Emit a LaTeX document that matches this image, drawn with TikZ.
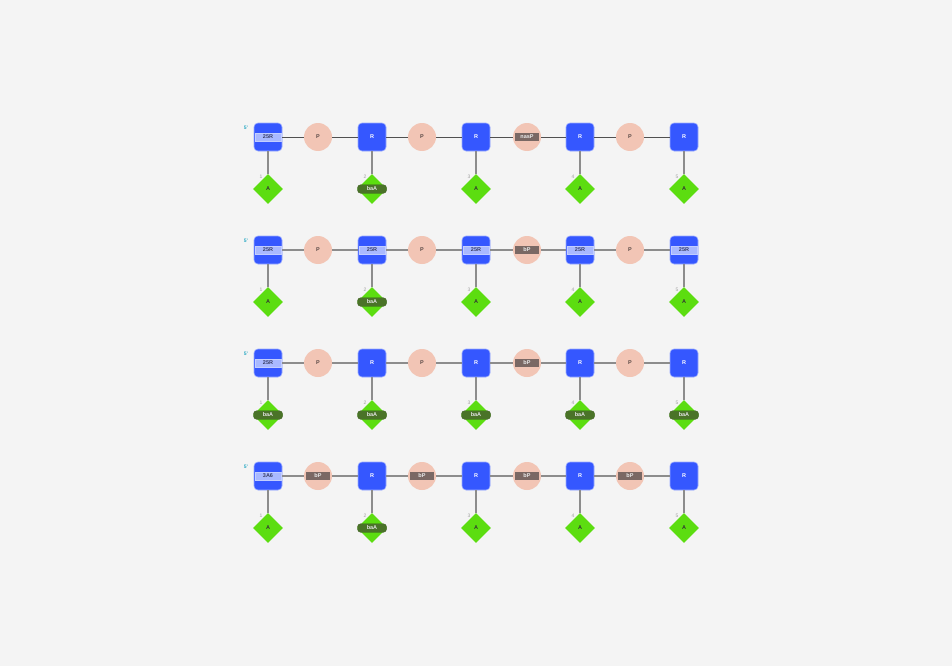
\documentclass[tikz,border=0pt]{standalone}
\usepackage{fontspec}
\setmainfont{Liberation Sans}
\usetikzlibrary{shapes.geometric}
\definecolor{bgc}{HTML}{F4F4F4}
\definecolor{sqblue}{HTML}{3557FF}
\definecolor{barblue}{HTML}{A9B9FF}
\definecolor{bartext}{HTML}{3A3F66}
\definecolor{phpink}{HTML}{F2C5B5}
\definecolor{phtext}{HTML}{5A4A46}
\definecolor{bgreen}{HTML}{5CDD10}
\definecolor{dgreen}{HTML}{4A7328}
\definecolor{pbadgec}{HTML}{7A6864}
\definecolor{tealc}{HTML}{2AA9C4}
\definecolor{bbdark}{HTML}{505050}
\definecolor{bbgray}{HTML}{8C8C8C}
\definecolor{numc}{HTML}{A0A0A0}
\tikzset{
  sqnode/.style={rectangle, rounded corners=4pt, minimum width=28pt, minimum height=28pt, inner sep=0pt,
     fill=sqblue, draw=sqblue!50!white, line width=0.6pt, text=white, font=\fontsize{5.5}{6}\selectfont\bfseries},
  barlbl/.style={rectangle, minimum width=26pt, minimum height=8pt, inner sep=0pt, fill=barblue,
     draw=barblue!70!white, line width=0.4pt, text=bartext, font=\fontsize{5.5}{6}\selectfont\bfseries},
  phnode/.style={circle, minimum size=28pt, inner sep=0pt, fill=phpink, text=phtext,
     font=\fontsize{5.5}{6}\selectfont\bfseries},
  pbadge/.style={rectangle, minimum width=24pt, minimum height=8pt, inner sep=0pt, fill=pbadgec,
     text=white!92!black, font=\fontsize{5.5}{6}\selectfont\bfseries},
  basenode/.style={diamond, minimum width=30pt, minimum height=30pt, inner sep=0pt, fill=bgreen,
     text=black!80, font=\fontsize{5.5}{6}\selectfont\bfseries},
  abadge/.style={rectangle, rounded corners=3pt, minimum width=29pt, minimum height=8.5pt, inner sep=0pt,
     fill=dgreen, draw=dgreen!80!black, line width=0.3pt, text=white!90!black, font=\fontsize{5.5}{6}\selectfont\bfseries},
  numlbl/.style={inner sep=0pt, text=numc, font=\fontsize{5}{5}\selectfont},
  primelbl/.style={inner sep=0pt, text=tealc, font=\fontsize{5}{5}\selectfont\bfseries},
  bbdarkline/.style={draw=bbdark, line width=0.9pt},
  bbline/.style={draw=bbgray, line width=1.4pt},
  stemline/.style={draw=bbgray, line width=1.6pt}
}
\newcommand\mkRsq[3]{\node[sqnode] (#1) at (#2,#3) {R};}
\newcommand\mkRbar[4]{\node[sqnode] (#1) at (#2,#3) {}; \node[barlbl] (#1l) at (#1.center) {#4};}
\newcommand\mkPc[3]{\node[phnode] (#1) at (#2,#3) {P};}
\newcommand\mkPb[4]{\node[phnode] (#1) at (#2,#3) {}; \node[pbadge] (#1l) at (#1.center) {#4};}
\newcommand\mkA[4]{\node[basenode] (#1) at (#2,#3) {A}; \node[numlbl] (#1n) at ([xshift=-7pt,yshift=12pt]#1.center) {#4};}
\newcommand\mkAb[4]{\node[basenode] (#1) at (#2,#3) {}; \node[abadge] (#1l) at (#1.center) {baA}; \node[numlbl] (#1n) at ([xshift=-7pt,yshift=12pt]#1.center) {#4};}
\newcommand\mkprime[2]{\node[primelbl] (#1p) at ([xshift=-22pt,yshift=9pt]#1.center) {5'};}
\begin{document}
\begin{tikzpicture}[x=1pt,y=-1pt]
\fill[bgc] (0,0) rectangle (952,666);
\useasboundingbox (0,0) rectangle (952,666);
% ---------- Row 1 ----------
\mkRbar{aR1}{268}{137}{25R}
\mkPc{aP1}{318}{137}
\mkRsq{aR2}{372}{137}
\mkPc{aP2}{422}{137}
\mkRsq{aR3}{476}{137}
\mkPb{aP3}{527}{137}{nasP}
\mkRsq{aR4}{580}{137}
\mkPc{aP4}{630}{137}
\mkRsq{aR5}{684}{137}
\mkprime{aR1}{}
\mkA{aB1}{268}{189}{1}
\mkAb{aB2}{372}{189}{2}
\mkA{aB3}{476}{189}{3}
\mkA{aB4}{580}{189}{4}
\mkA{aB5}{684}{189}{5}
\draw[bbdarkline] (aR1) -- (aP1) (aP1) -- (aR2) (aR2) -- (aP2) (aP2) -- (aR3) (aR3) -- (aP3) (aP3) -- (aR4) (aR4) -- (aP4) (aP4) -- (aR5);
\foreach \i in {1,...,5}{\draw[stemline] (aR\i) -- (aB\i);}
% ---------- Row 2 ----------
\mkRbar{bR1}{268}{250}{25R}
\mkPc{bP1}{318}{250}
\mkRbar{bR2}{372}{250}{25R}
\mkPc{bP2}{422}{250}
\mkRbar{bR3}{476}{250}{25R}
\mkPb{bP3}{527}{250}{bP}
\mkRbar{bR4}{580}{250}{25R}
\mkPc{bP4}{630}{250}
\mkRbar{bR5}{684}{250}{25R}
\mkprime{bR1}{}
\mkA{bB1}{268}{302}{1}
\mkAb{bB2}{372}{302}{2}
\mkA{bB3}{476}{302}{3}
\mkA{bB4}{580}{302}{4}
\mkA{bB5}{684}{302}{5}
\draw[bbline] (bR1) -- (bP1) (bP1) -- (bR2) (bR2) -- (bP2) (bP2) -- (bR3) (bR3) -- (bP3) (bP3) -- (bR4) (bR4) -- (bP4) (bP4) -- (bR5);
\foreach \i in {1,...,5}{\draw[stemline] (bR\i) -- (bB\i);}
% ---------- Row 3 ----------
\mkRbar{cR1}{268}{363}{25R}
\mkPc{cP1}{318}{363}
\mkRsq{cR2}{372}{363}
\mkPc{cP2}{422}{363}
\mkRsq{cR3}{476}{363}
\mkPb{cP3}{527}{363}{bP}
\mkRsq{cR4}{580}{363}
\mkPc{cP4}{630}{363}
\mkRsq{cR5}{684}{363}
\mkprime{cR1}{}
\mkAb{cB1}{268}{415}{1}
\mkAb{cB2}{372}{415}{2}
\mkAb{cB3}{476}{415}{3}
\mkAb{cB4}{580}{415}{4}
\mkAb{cB5}{684}{415}{5}
\draw[bbline] (cR1) -- (cP1) (cP1) -- (cR2) (cR2) -- (cP2) (cP2) -- (cR3) (cR3) -- (cP3) (cP3) -- (cR4) (cR4) -- (cP4) (cP4) -- (cR5);
\foreach \i in {1,...,5}{\draw[stemline] (cR\i) -- (cB\i);}
% ---------- Row 4 ----------
\mkRbar{dR1}{268}{476}{3A6}
\mkPb{dP1}{318}{476}{bP}
\mkRsq{dR2}{372}{476}
\mkPb{dP2}{422}{476}{bP}
\mkRsq{dR3}{476}{476}
\mkPb{dP3}{527}{476}{bP}
\mkRsq{dR4}{580}{476}
\mkPb{dP4}{630}{476}{bP}
\mkRsq{dR5}{684}{476}
\mkprime{dR1}{}
\mkA{dB1}{268}{528}{1}
\mkAb{dB2}{372}{528}{2}
\mkA{dB3}{476}{528}{3}
\mkA{dB4}{580}{528}{4}
\mkA{dB5}{684}{528}{5}
\draw[bbline] (dR1) -- (dP1) (dP1) -- (dR2) (dR2) -- (dP2) (dP2) -- (dR3) (dR3) -- (dP3) (dP3) -- (dR4) (dR4) -- (dP4) (dP4) -- (dR5);
\foreach \i in {1,...,5}{\draw[stemline] (dR\i) -- (dB\i);}
\end{tikzpicture}
\end{document}
